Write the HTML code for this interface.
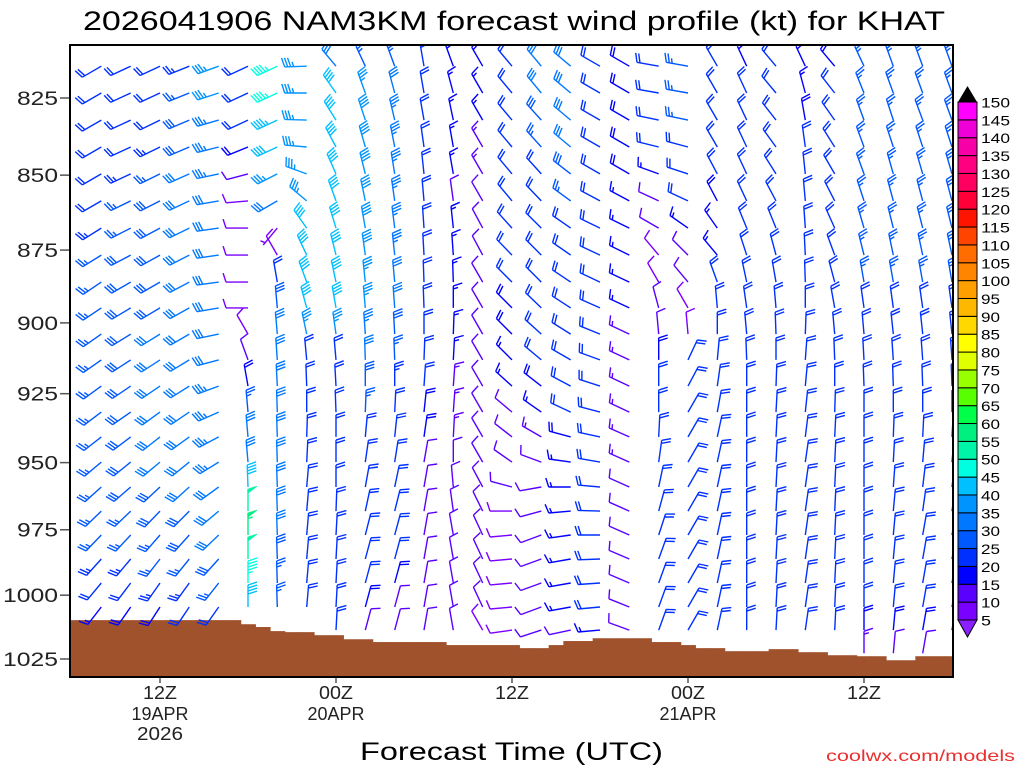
<!DOCTYPE html>
<html><head><meta charset="utf-8"><title>NAM3KM wind profile KHAT</title>
<style>
html,body{margin:0;padding:0;background:#fff;}
svg{display:block;font-family:"Liberation Sans",sans-serif;}
</style></head>
<body>
<svg id="chart" width="1024" height="768" viewBox="0 0 1024 768" xmlns="http://www.w3.org/2000/svg">
<rect x="0" y="0" width="1024" height="768" fill="#fff"/>
<text x="83" y="30" font-size="27" textLength="862" lengthAdjust="spacingAndGlyphs" fill="#000">2026041906 NAM3KM forecast wind profile (kt) for KHAT</text>
<defs><clipPath id="plotclip"><rect x="71" y="46" width="881" height="630"/></clipPath></defs>
<g id="terrain"></g>
<g id="barbs" clip-path="url(#plotclip)"></g>
<rect x="70" y="45" width="883" height="632" fill="none" stroke="#000" stroke-width="2"/>
<g id="yaxis"></g>
<g id="xaxis"></g>
<text x="360" y="760" font-size="25" textLength="303" lengthAdjust="spacingAndGlyphs" fill="#000">Forecast Time (UTC)</text>
<text x="826" y="761" font-size="16" textLength="189" lengthAdjust="spacingAndGlyphs" fill="#e8302f">coolwx.com/models</text>
<g id="cbar"></g>
</svg>
<script>
// ---- axis data ----
const yTicks=[825,850,875,900,925,950,975,1000,1025];
const xTickTimes=[12,24,36,48,60];
const xTickLine1=["12Z","00Z","12Z","00Z","12Z"];
const xTickLine2=["19APR","20APR","","21APR",""];
const xTickLine3=["2026","","","",""];
const cbLabels=[150,145,140,135,130,125,120,115,110,105,100,95,90,85,80,75,70,65,60,55,50,45,40,35,30,25,20,15,10,5];
const cbColors=['#7a00ff','#5a00ff','#0000ff','#0030ff','#0058ff','#0078ff','#0094ff','#00c0ff','#00ffe0','#00f5a8','#00f080','#00ff48','#58ff00','#98ff00','#e0ff00','#ffff00','#ffd800','#ffb800','#ffa000','#ff8400','#ff6c00','#ff4400','#ff1400','#ff0038','#ff0060','#ff0080','#f800a8','#f000d8','#ff00ff'];
// ---- model data ----
const levels=[814.9,823.4,832.1,840.8,849.6,858.5,867.6,876.7,885.9,894.8,903.9,913.0,922.3,931.6,940.6,949.8,959.0,968.0,977.0,986.1,995.3,1004.6,1013.6,1022.7];
const sfcHours=[6,7,8,9,10,11,12,13,14,15,16,17,18,19,20,21,22,23,24,25,26,27,28,29,30,31,32,33,34,35,36,37,38,39,40,41,42,43,44,45,46,47,48,49,50,51,52,53,54,55,56,57,58,59,60,61,62,63,64,65,66];
const sfcPres=[1009.7,1009.7,1009.7,1009.7,1009.7,1009.7,1009.7,1009.7,1009.7,1009.7,1009.7,1009.7,1011.3,1012.4,1014.0,1014.4,1014.4,1015.6,1015.6,1017.2,1017.2,1018.3,1018.3,1018.3,1018.3,1018.3,1019.5,1019.5,1019.5,1019.5,1019.5,1020.7,1020.7,1019.5,1017.9,1017.9,1016.8,1016.8,1016.8,1016.8,1018.3,1018.3,1019.5,1020.7,1020.7,1021.9,1021.9,1021.9,1021.1,1021.1,1022.3,1022.3,1023.5,1023.5,1023.9,1023.9,1025.5,1025.5,1023.9,1023.9,1023.9];
// wind direction (deg) and speed (kt), ordered top level -> bottom level
const dir08=[240,240,240,240,240,240,238,238,236,236,235,235,234,233,232,230,228,226,224,222,220,218];
const spd08=[20,20,20,20,20,22,24,25,25,26,26,26,27,27,27,27,26,26,25,23,20,17];
const dir10=[245,245,245,245,245,244,243,242,240,239,238,237,236,235,233,231,229,226,223,220,217,215];
const spd10=[20,20,20,20,24,26,27,28,28,28,28,28,28,29,29,29,28,27,26,24,21,18];
const dir12=[245,245,244,244,244,243,242,241,240,239,238,237,236,234,232,230,227,224,221,218,215,213];
const spd12=[22,22,22,24,26,28,28,29,29,29,30,30,30,30,30,30,29,28,27,26,23,19];
const dir14=[248,248,247,247,246,245,244,243,242,241,240,239,238,236,234,231,228,225,222,219,216,214];
const spd14=[24,26,28,28,30,30,31,31,31,32,32,32,32,32,32,31,30,29,28,27,24,20];
const dir16=[250,252,254,256,258,260,262,262,262,260,258,255,250,246,242,238,234,230,226,222,218,215];
const spd16=[35,35,34,33,33,32,32,32,32,32,32,32,33,33,33,33,32,31,30,28,25,20];
const dir18=[245,245,245,248,255,265,270,270,270,270,330,340,350,355,355,355,358,0,0,0,0,0];
const spd18=[20,20,20,18,12,8,8,8,8,8,8,12,18,25,30,32,42,52,55,52,47,40];
const dir20=[245,245,245,245,243,240,220,330,350,355,355,356,357,358,358,358,358,358,358,358,358,358];
const spd20=[45,45,43,40,35,30,5,8,22,28,30,30,30,30,30,30,30,30,30,28,27,26];
const dir22=[268,270,272,275,290,310,325,335,340,345,348,355,358,0,2,3,5,5,5,5,5,5];
const spd22=[35,36,36,36,35,35,40,40,40,40,35,22,20,20,20,20,20,20,20,20,20,20];
const dir24=[320,325,328,332,336,340,343,346,348,350,352,355,357,358,0,0,0,2,3,3,3,3,3];
const spd24=[30,40,40,40,40,40,42,42,42,40,35,22,20,20,20,20,20,20,20,20,20,20,20];
const dir26=[335,340,342,344,346,348,350,352,354,355,356,358,0,2,5,8,10,12,14,15,15,15,15];
const spd26=[25,35,38,38,38,38,38,38,36,35,33,30,28,25,22,20,20,20,20,20,20,18,12];
const dir28=[340,345,347,349,351,352,353,354,355,356,357,358,0,3,6,9,12,14,15,15,15,15,15];
const spd28=[25,32,33,33,33,33,33,33,32,30,28,26,24,22,20,20,20,20,20,20,18,12,10];
const dir30=[350,350,350,352,354,355,356,357,358,358,0,2,4,6,8,10,10,10,10,10,10,10,10];
const spd30=[20,20,20,20,20,20,20,20,20,20,20,20,20,18,18,12,12,12,12,12,12,12,12];
const dir32=[340,345,348,350,350,352,354,356,358,0,2,3,4,4,3,0,355,352,350,350,350,350,350];
const spd32=[18,17,17,17,17,10,15,15,15,15,15,15,14,13,13,12,12,12,12,12,12,12,12];
const dir34=[330,330,330,330,330,330,332,332,330,330,330,330,330,330,330,330,332,334,335,335,335,335,330];
const spd34=[15,15,15,14,13,12,12,10,10,10,10,10,10,10,10,10,10,10,10,10,10,10,8];
const dir36=[320,320,320,320,320,320,318,316,315,315,315,315,312,310,308,305,285,270,265,265,265,265,262];
const spd36=[20,20,20,20,22,22,20,20,20,18,18,16,15,12,10,10,10,9,9,9,9,9,8];
const dir38=[320,320,318,318,318,316,315,315,315,314,312,310,308,305,300,290,260,255,250,250,250,250,252];
const spd38=[30,30,28,25,22,22,20,20,20,20,20,20,18,15,14,12,10,10,10,10,10,10,10];
const dir40=[310,310,310,310,308,306,305,305,304,303,302,300,298,295,285,278,270,265,262,260,260,260,258];
const spd40=[32,32,30,30,28,25,22,22,20,20,20,20,20,20,18,16,15,15,15,15,15,15,12];
const dir42=[300,300,300,300,300,298,296,295,295,294,292,290,288,285,282,280,275,272,270,268,266,265,265];
const spd42=[20,20,20,20,20,20,20,20,20,20,20,20,20,20,20,20,20,20,20,20,20,20,15];
const dir44=[300,300,300,300,300,298,296,296,295,295,295,295,295,295,294,294,294,294,294,293,293,292,290];
const spd44=[18,18,18,18,18,17,16,16,15,15,14,14,13,13,13,13,12,12,12,12,12,12,10];
const dir46=[280,280,282,284,290,295,300,320,330,345,355,0,0,0,3,8,12,15,18,20,20,20,20];
const spd46=[20,20,20,20,15,10,10,8,8,10,12,18,20,20,20,20,20,20,20,20,20,20,20];
const dir48=[280,280,282,285,288,295,305,315,320,330,355,25,28,30,30,30,30,30,30,30,30,30,30];
const spd48=[25,25,25,22,20,20,15,12,10,8,8,20,20,20,20,20,20,20,20,20,20,20,20];
const dir50=[330,330,330,330,332,332,325,320,340,355,0,5,8,10,12,12,12,12,12,12,12,12,12];
const spd50=[20,20,20,20,20,18,15,15,20,20,20,20,20,20,20,20,20,20,20,20,20,20,20];
const dir52=[335,335,335,335,335,335,338,342,348,352,355,358,0,0,0,0,0,0,0,0,0,0,0];
const spd52=[18,20,20,20,20,20,20,20,20,20,20,20,20,20,20,20,20,20,20,20,20,20,20];
const dir54=[320,320,322,324,328,332,338,345,350,355,358,0,2,3,3,3,3,3,3,3,3,3,3];
const spd54=[20,20,20,20,20,20,20,20,20,20,20,20,20,20,20,20,20,20,20,20,20,20,20];
const dir56=[335,345,350,352,354,355,356,357,358,0,2,4,5,6,7,8,8,8,8,8,8,8,8];
const spd56=[15,15,18,20,20,20,20,20,20,20,20,20,20,20,20,20,20,20,20,20,20,20,20];
const dir58=[320,322,325,328,330,333,336,340,345,350,355,358,0,2,3,3,3,3,3,3,3,3,3];
const spd58=[18,20,20,20,20,20,20,20,20,20,20,20,20,20,20,20,20,20,20,20,20,20,20];
const dir60=[335,338,340,340,340,342,344,346,350,352,355,357,358,0,0,0,0,0,0,0,0,0,0,0];
const spd60=[25,25,25,25,25,25,25,25,25,22,22,20,20,20,20,20,20,20,20,20,20,20,18,14];
const dir62=[340,340,342,342,344,345,346,348,350,352,354,356,358,0,2,3,4,5,5,5,5,5,5,5];
const spd62=[25,25,25,25,25,25,25,25,25,22,22,20,20,20,20,20,20,20,20,20,20,20,18,10];
const dir64=[340,340,340,342,344,345,346,348,350,352,354,356,358,0,3,5,7,8,10,10,10,10,10,10];
const spd64=[25,25,25,25,25,25,25,25,25,22,22,20,20,20,20,20,20,20,20,20,20,20,18,10];
const dir66=[340,340,340,342,344,345,346,348,350,352,354,356,358,0,3,5,7,8,10,10,10,10,10];
const spd66=[25,25,25,25,25,25,25,25,25,22,22,20,20,20,20,20,20,20,20,20,20,20,18];
const times=[8,10,12,14,16,18,20,22,24,26,28,30,32,34,36,38,40,42,44,46,48,50,52,54,56,58,60,62,64,66];
const dirCols=[dir08,dir10,dir12,dir14,dir16,dir18,dir20,dir22,dir24,dir26,dir28,dir30,dir32,dir34,dir36,dir38,dir40,dir42,dir44,dir46,dir48,dir50,dir52,dir54,dir56,dir58,dir60,dir62,dir64,dir66];
const spdCols=[spd08,spd10,spd12,spd14,spd16,spd18,spd20,spd22,spd24,spd26,spd28,spd30,spd32,spd34,spd36,spd38,spd40,spd42,spd44,spd46,spd48,spd50,spd52,spd54,spd56,spd58,spd60,spd62,spd64,spd66];

// ---- axes ----
const NS=document.getElementById('chart').namespaceURI;
const PX_L=70,PX_R=953,PY_T=45,PY_B=677;
function yP(p){return 98+(659-98)*Math.log(p/825)/Math.log(1025/825);}
function xT(t){return 160+(t-12)*(864-160)/48;}
function cbY(v){return 620-(v-5)/5*(518/29);}
function el(tag,parent){const e=document.createElementNS(NS,tag);parent.appendChild(e);return e;}
function colorFor(s){let i=Math.floor((s-5)/5);if(i<0)i=0;if(i>28)i=28;return cbColors[i];}

// terrain
const terr=document.getElementById('terrain');
for(let i=0;i<sfcHours.length;i++){
  const t=sfcHours[i];
  const x0=Math.max(PX_L+1,xT(t-0.5)),x1=Math.min(PX_R,xT(t+0.5));
  const yy=yP(sfcPres[i]);
  const r=el('rect',terr);
  
  
  r.setAttribute('x',x0.toFixed(2));r.setAttribute('y',yy.toFixed(2));
  r.setAttribute('width',(x1-x0+0.6).toFixed(2));r.setAttribute('height',(PY_B-yy).toFixed(2));
  r.setAttribute('fill','#a0522d');
}

// barbs
const barbs=document.getElementById('barbs');
const L=22,FL=9.5,HL=5,SP=3;
function drawBarb(x0,y0,dir,spd){
  const s=Math.round(spd/5)*5;
  const c=colorFor(spd);
  const a=dir*Math.PI/180,ux=Math.sin(a),uy=-Math.cos(a);
  const b=(dir+72)*Math.PI/180,fx=Math.sin(b),fy=-Math.cos(b);
  const P=(d)=>[x0+d*ux,y0+d*uy];
  let d='M'+x0.toFixed(1)+','+y0.toFixed(1)+'L'+P(L)[0].toFixed(1)+','+P(L)[1].toFixed(1);
  let n50=Math.floor(s/50),rem=s-50*n50,n10=Math.floor(rem/10),n5=(rem-10*n10)>=5?1:0;
  let pos=L;
  if(n50===0&&n10===0&&n5===1)pos=L-SP;
  let flags='';
  for(let k=0;k<n50;k++){
    const p1=P(pos),p2=P(pos-4);
    flags+='M'+p1[0].toFixed(1)+','+p1[1].toFixed(1)+'L'+(p1[0]+FL*fx).toFixed(1)+','+(p1[1]+FL*fy).toFixed(1)+'L'+p2[0].toFixed(1)+','+p2[1].toFixed(1)+'Z';
    pos-=5.5;
  }
  for(let k=0;k<n10;k++){
    const p1=P(pos);
    d+='M'+p1[0].toFixed(1)+','+p1[1].toFixed(1)+'l'+(FL*fx).toFixed(1)+','+(FL*fy).toFixed(1);
    pos-=SP;
  }
  if(n5){const p1=P(pos);d+='M'+p1[0].toFixed(1)+','+p1[1].toFixed(1)+'l'+(HL*fx).toFixed(1)+','+(HL*fy).toFixed(1);}
  const g=el('path',barbs);
  
  
  g.setAttribute('d',d);g.setAttribute('stroke',c);g.setAttribute('stroke-width','1.4');g.setAttribute('fill','none');
  if(flags){
    const f=el('path',barbs);
    
    
    f.setAttribute('d',flags);f.setAttribute('fill',c);f.setAttribute('stroke',c);f.setAttribute('stroke-width','0.8');
  }
}
for(let ci=0;ci<times.length;ci++){
  const x=xT(times[ci]);
  const dirs=dirCols[ci],spds=spdCols[ci];
  for(let r=0;r<dirs.length&&r<levels.length;r++){
    drawBarb(x,yP(levels[r]),dirs[r],spds[r]);
  }
}

// y axis
const ya=document.getElementById('yaxis');
yTicks.forEach(p=>{
  const y=yP(p);
  const tk=el('line',ya);
  
  
  tk.setAttribute('x1',60);tk.setAttribute('x2',69);tk.setAttribute('y1',y);tk.setAttribute('y2',y);
  tk.setAttribute('stroke','#555');tk.setAttribute('stroke-width','1.5');
  const tx=el('text',ya);
  
  
  const s=String(p);
  tx.setAttribute('x',58);tx.setAttribute('y',(y+7).toFixed(1));tx.setAttribute('text-anchor','end');
  tx.setAttribute('font-size','19');tx.setAttribute('textLength',(s.length*13.8).toFixed(0));tx.setAttribute('lengthAdjust','spacingAndGlyphs');
  tx.setAttribute('fill','#222');
  tx.textContent=s;
});
// x axis
const xa=document.getElementById('xaxis');
xTickTimes.forEach((t,i)=>{
  const x=xT(t);
  const tk=el('line',xa);
  
  
  tk.setAttribute('x1',x);tk.setAttribute('x2',x);tk.setAttribute('y1',678);tk.setAttribute('y2',683);
  tk.setAttribute('stroke','#555');tk.setAttribute('stroke-width','1.5');
  [[xTickLine1[i],699],[xTickLine2[i],720],[xTickLine3[i],740]].forEach(([s,yy])=>{
    if(!s)return;
    const tx=el('text',xa);
    
    
    tx.setAttribute('x',x.toFixed(1));tx.setAttribute('y',yy);tx.setAttribute('text-anchor','middle');
    tx.setAttribute('font-size','18');tx.setAttribute('textLength',(s.length*11.4).toFixed(0));tx.setAttribute('lengthAdjust','spacingAndGlyphs');
    tx.setAttribute('fill','#222');
    tx.textContent=s;
  });
});
// colorbar
const cb=document.getElementById('cbar');
const cbTop=el('polygon',cb);


cbTop.setAttribute('points','958,'+cbY(150)+' 977,'+cbY(150)+' 967.5,86');cbTop.setAttribute('fill','#000');
const cbBot=el('polygon',cb);


cbBot.setAttribute('points','958,'+cbY(5)+' 977,'+cbY(5)+' 967.5,637');cbBot.setAttribute('fill','#8a20ff');cbBot.setAttribute('stroke','#000');cbBot.setAttribute('stroke-width','1');
for(let i=0;i<cbColors.length;i++){
  const lo=5+5*i,hi=lo+5;
  const r=el('rect',cb);
  
  
  r.setAttribute('x',958);r.setAttribute('y',cbY(hi).toFixed(2));r.setAttribute('width',19);r.setAttribute('height',(cbY(lo)-cbY(hi)).toFixed(2));
  r.setAttribute('fill',cbColors[i]);r.setAttribute('stroke','#000');r.setAttribute('stroke-width','1');
}
cbLabels.forEach(v=>{
  const tx=el('text',cb);
  
  
  const s=String(v);
  tx.setAttribute('x',981);tx.setAttribute('y',(cbY(v)+5.5).toFixed(1));
  tx.setAttribute('font-size','14');tx.setAttribute('textLength',(s.length*9.6).toFixed(0));tx.setAttribute('lengthAdjust','spacingAndGlyphs');
  tx.setAttribute('fill','#000');
  tx.textContent=s;
});
</script>
</body></html>
